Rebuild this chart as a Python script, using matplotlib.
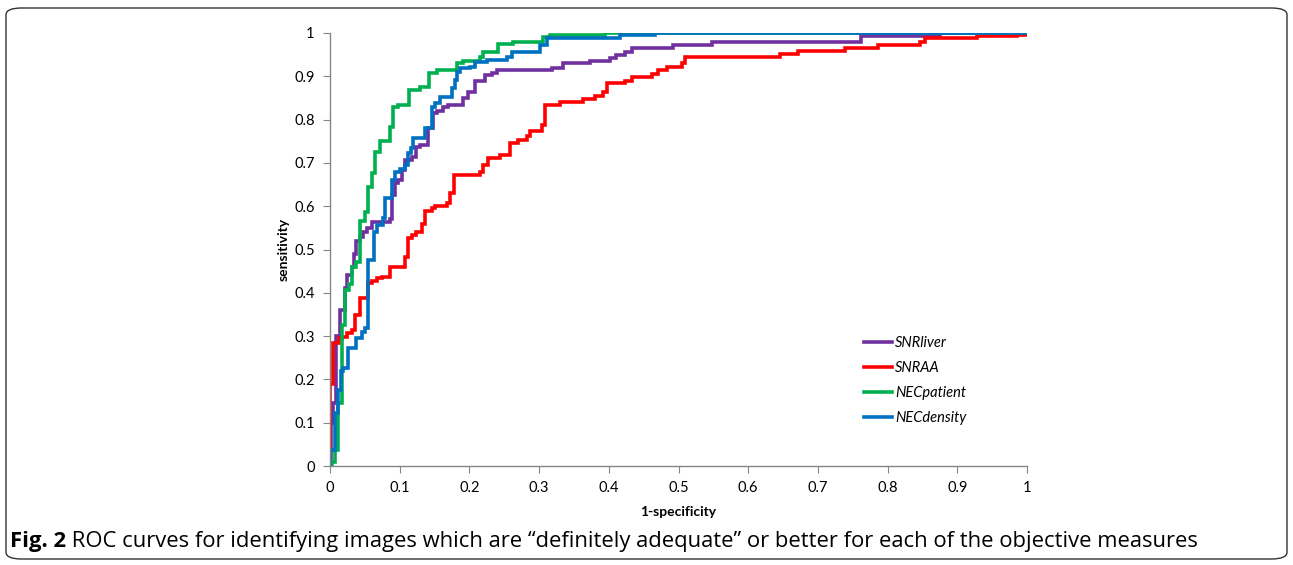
import matplotlib
matplotlib.use("Agg")
import matplotlib.pyplot as plt
from matplotlib.patches import FancyBboxPatch

# ROC step points: (1-specificity where the step occurs, sensitivity after it)
snrliver_fpr = [0, 0.002, 0.004, 0.008, 0.014, 0.021, 0.025, 0.031, 0.034, 0.037, 0.043,
                0.048, 0.053, 0.06, 0.086, 0.089, 0.093, 0.097, 0.103, 0.108, 0.117,
                0.124, 0.129, 0.14, 0.148, 0.153, 0.162, 0.169, 0.191, 0.198, 0.208,
                0.222, 0.232, 0.24, 0.318, 0.335, 0.373, 0.402, 0.411, 0.423, 0.433,
                0.492, 0.548, 0.762, 0.875, 1.0]
snrliver_tpr = [0, 0.10, 0.145, 0.30, 0.36, 0.41, 0.44, 0.46, 0.49, 0.52, 0.53,
                0.54, 0.55, 0.563, 0.57, 0.626, 0.653, 0.66, 0.684, 0.707, 0.713,
                0.737, 0.741, 0.78, 0.815, 0.82, 0.828, 0.834, 0.85, 0.864, 0.89,
                0.903, 0.908, 0.915, 0.919, 0.93, 0.935, 0.942, 0.949, 0.956, 0.965,
                0.972, 0.979, 0.993, 1.0, 1.0]

snraa_fpr = [0, 0.0, 0.005, 0.013, 0.017, 0.024, 0.031, 0.036, 0.043, 0.055, 0.06,
             0.067, 0.075, 0.086, 0.108, 0.112, 0.117, 0.124, 0.132, 0.136, 0.146,
             0.151, 0.168, 0.172, 0.178, 0.215, 0.22, 0.227, 0.244, 0.258, 0.27,
             0.283, 0.287, 0.304, 0.308, 0.33, 0.363, 0.38, 0.392, 0.397, 0.423,
             0.433, 0.462, 0.471, 0.483, 0.505, 0.509, 0.646, 0.672, 0.739, 0.786,
             0.846, 0.854, 0.928, 0.986, 1.0]
snraa_tpr = [0, 0.19, 0.285, 0.295, 0.299, 0.307, 0.314, 0.349, 0.388, 0.422, 0.427,
             0.434, 0.437, 0.46, 0.483, 0.527, 0.533, 0.54, 0.56, 0.59, 0.596,
             0.6, 0.607, 0.63, 0.672, 0.679, 0.695, 0.711, 0.718, 0.746, 0.753,
             0.762, 0.774, 0.788, 0.834, 0.84, 0.848, 0.855, 0.863, 0.885, 0.89,
             0.898, 0.905, 0.914, 0.922, 0.93, 0.945, 0.951, 0.958, 0.965, 0.972,
             0.98, 0.988, 0.993, 0.996, 1.0]

necpatient_fpr = [0, 0.003, 0.007, 0.011, 0.017, 0.021, 0.027, 0.032, 0.038, 0.043, 0.05,
                  0.055, 0.06, 0.065, 0.072, 0.086, 0.09, 0.098, 0.113, 0.129, 0.142,
                  0.153, 0.182, 0.191, 0.215, 0.22, 0.241, 0.263, 0.306, 0.316, 0.394, 1.0]
necpatient_tpr = [0, 0.01, 0.037, 0.145, 0.325, 0.406, 0.42, 0.46, 0.47, 0.565, 0.587,
                  0.645, 0.677, 0.725, 0.75, 0.783, 0.83, 0.834, 0.868, 0.875, 0.907,
                  0.915, 0.93, 0.935, 0.945, 0.957, 0.975, 0.98, 0.99, 0.995, 1.0, 1.0]

necdensity_fpr = [0, 0.0, 0.007, 0.011, 0.016, 0.019, 0.026, 0.038, 0.046, 0.05, 0.054,
                  0.063, 0.068, 0.076, 0.079, 0.089, 0.093, 0.1, 0.108, 0.112, 0.116,
                  0.119, 0.136, 0.146, 0.151, 0.158, 0.175, 0.179, 0.182, 0.187, 0.201,
                  0.208, 0.225, 0.254, 0.261, 0.301, 0.311, 0.416, 0.466, 1.0]
necdensity_tpr = [0, 0.037, 0.122, 0.176, 0.22, 0.226, 0.272, 0.295, 0.31, 0.318, 0.476,
                  0.54, 0.557, 0.573, 0.619, 0.66, 0.68, 0.686, 0.695, 0.723, 0.734,
                  0.757, 0.78, 0.83, 0.838, 0.852, 0.873, 0.892, 0.91, 0.919, 0.922,
                  0.933, 0.937, 0.945, 0.956, 0.972, 0.988, 0.995, 1.0, 1.0]

series = [
    ("SNRliver", snrliver_fpr, snrliver_tpr, "#7030A0"),
    ("SNRAA", snraa_fpr, snraa_tpr, "#FF0000"),
    ("NECpatient", necpatient_fpr, necpatient_tpr, "#00B050"),
    ("NECdensity", necdensity_fpr, necdensity_tpr, "#0070C0"),
]

xticks = [0, 0.1, 0.2, 0.3, 0.4, 0.5, 0.6, 0.7, 0.8, 0.9, 1]
yticks = [0, 0.1, 0.2, 0.3, 0.4, 0.5, 0.6, 0.7, 0.8, 0.9, 1]

caption_bold = "Fig. 2"
caption_rest = (" ROC curves for identifying images which are \u201cdefinitely adequate\u201d "
                "or better for each of the objective measures")

plt.rcParams['font.family'] = ['Lato', 'DejaVu Sans']

fig = plt.figure(figsize=(12.93, 5.65), dpi=100)
ax = fig.add_axes([330 / 1293, 99 / 565, 697 / 1293, 433 / 565])

for name, fpr, tpr, col in series:
    ax.plot(fpr, tpr, drawstyle='steps-post', color=col, lw=2.6, label=name,
            solid_joinstyle='miter')

ax.set_xlim(0, 1)
ax.set_ylim(0, 1)
ax.set_xticks(xticks)
ax.set_yticks(yticks)
ax.set_xticklabels([f"{t:g}" for t in xticks])
ax.set_yticklabels([f"{t:g}" for t in yticks])
for s in ['top', 'right']:
    ax.spines[s].set_visible(False)
for s in ['left', 'bottom']:
    ax.spines[s].set_color('#868686')
    ax.spines[s].set_linewidth(1.0)
ax.tick_params(direction='out', length=5, color='#868686', labelsize=10.5,
               labelcolor='#000000', pad=6)
ax.set_xlabel('1-specificity', fontsize=10, fontweight='bold', labelpad=8)
ax.set_ylabel('sensitivity', fontsize=10, fontweight='bold', labelpad=3)

leg = ax.legend(loc='upper left', bbox_to_anchor=(0.748, 0.33), frameon=False,
                handlelength=1.9, handletextpad=0.2, labelspacing=0.75,
                prop={'style': 'italic', 'size': 10.5})

# caption: bold figure number followed by regular text
cy = 1 - 541 / 565
t1 = fig.text(10 / 1293, cy, caption_bold, fontsize=15.8, fontweight='bold',
              va='center', ha='left', family='Open Sans')
fig.canvas.draw()
bb = t1.get_window_extent()
x2 = bb.x1 / fig.bbox.width
fig.text(x2, cy, caption_rest, fontsize=15.8, va='center', ha='left',
         family='Open Sans')

# rounded frame around the figure
frame = FancyBboxPatch((6 / 1293, 6 / 565), 1281 / 1293, 551 / 565,
                       boxstyle="round,pad=0,rounding_size=0.012",
                       transform=fig.transFigure, fill=False, ec='#333333', lw=1.0)
fig.patches.append(frame)

fig.savefig('out.png', dpi=100)
